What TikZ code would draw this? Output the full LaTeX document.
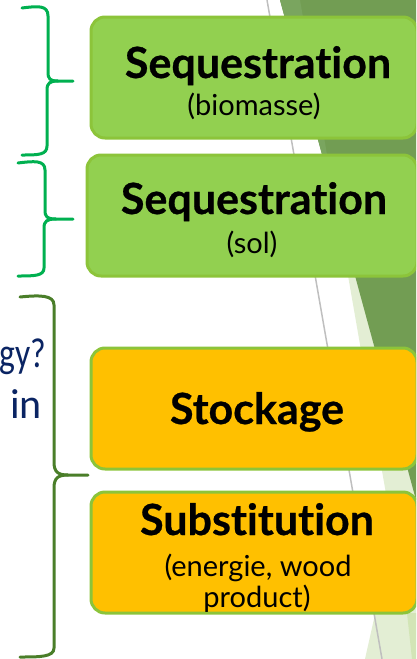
\documentclass[tikz,border=0pt]{standalone}
\usepackage{fontspec}
\newfontfamily\bigfont[Ligatures={NoCommon}, BoldFeatures={FakeBold=0.6}]{Lato}
\newfontfamily\smallfont[Ligatures={NoCommon}]{Lato}
\newfontfamily\navyfont{Carlito}
\newfontfamily\navyfontc[FakeStretch=0.8]{Carlito}
\definecolor{gfill}{HTML}{92D050}
\definecolor{oboxfill}{HTML}{FFC000}
\definecolor{bborder}{HTML}{8CC43A}
\definecolor{brgreen}{HTML}{00B050}
\definecolor{brdark}{HTML}{4A7E29}
\definecolor{navy}{HTML}{0A2463}
\definecolor{darkbg}{HTML}{729D53}
\definecolor{darkbgw}{HTML}{7AA55F}
\definecolor{lightbg}{HTML}{E3EED4}
\definecolor{lightbg2}{HTML}{D2E5B6}
\definecolor{grayln}{HTML}{BFBFBF}
\tikzset{
  gbox/.style={draw=bborder, fill=gfill, line width=3pt, rounded corners=14pt, minimum width=326pt, inner sep=0pt},
  obox/.style={draw=bborder, fill=oboxfill, line width=3pt, rounded corners=14pt, minimum width=326pt, inner sep=0pt},
  bigtxt/.style={font={\bigfont\bfseries\fontsize{43pt}{50pt}\selectfont}, text=black, inner sep=0pt, anchor=base},
  smalltxt/.style={font={\smallfont\fontsize{29pt}{34pt}\selectfont}, text=black, inner sep=0pt, anchor=base},
  navytxt/.style={font={\navyfont\fontsize{42pt}{48pt}\selectfont}, text=navy, inner sep=0pt, anchor=base east},
  brace1/.style={draw=brgreen, line width=3pt, line cap=round},
  brace2/.style={draw=brdark, line width=3pt, line cap=round}
}
\begin{document}
\begin{tikzpicture}[x=1pt, y=-1pt]
\useasboundingbox (0,0) rectangle (416,659);
\clip (0,0) rectangle (416,659);
% background
\fill[lightbg] (300,0) -- (393,534) -- (365,659) -- (416,659) -- (416,0) -- cycle;
\fill[lightbg2] (407,613) -- (416,613) -- (416,659) -- (412,659) -- cycle;
\fill[darkbg] (280,0) -- (416,500) -- (416,0) -- cycle;
\fill[darkbgw] (280,0) -- (300,0) -- (336,206) -- cycle;
\draw[grayln, line width=1.5pt] (267,0) -- (382,659);
% boxes
\node[gbox, minimum height=121pt] (b1) at (254,77.5) {};
\node[gbox, minimum height=121pt, minimum width=330pt] (b2) at (252,215.5) {};
\node[obox, minimum height=121pt] (b3) at (254,408.5) {};
\node[obox, minimum height=121pt] (b4) at (254,552.5) {};
% texts
\node[bigtxt] (t1) at (258,78) {Sequestration};
\node[smalltxt] (t1b) at (254,115) {(biomasse)};
\node[bigtxt] (t2) at (254,214) {Sequestration};
\node[smalltxt] (t2b) at (252,253) {(sol)};
\node[bigtxt] (t3) at (257,424) {Stockage};
\node[bigtxt] (t4) at (257,535) {Substitution};
\node[smalltxt] (t4b) at (258,576) {(energie, wood};
\node[smalltxt] (t4c) at (257,607) {product)};
% left text
\node[navytxt, font={\navyfontc\fontsize{42pt}{48pt}\selectfont}] (l1) at (46,367) {gy?};
\node[navytxt] (l2) at (42,418) {in};
% braces
\draw[brace1] (22,8) .. controls (38,6) and (48,5) .. (48,16) -- (48,72) .. controls (48,79) and (50,81) .. (58,81) -- (73,81);
\draw[brace1] (58,81) .. controls (50,81) and (47,83) .. (47,90) -- (47,146) .. controls (47,155) and (38,155) .. (22,155);
\draw[brace1] (18,163) .. controls (34,161) and (45,160) .. (45,170) -- (45,210) .. controls (45,217) and (47,219) .. (56,219) -- (73,219);
\draw[brace1] (56,219) .. controls (47,219) and (44,221) .. (44,228) -- (44,268) .. controls (44,276) and (34,276) .. (18,276);
\draw[brace2] (20,297) .. controls (40,295) and (54,295) .. (54,305) -- (54,462) .. controls (54,472) and (58,475) .. (68,475) -- (88,475);
\draw[brace2] (68,475) .. controls (58,475) and (54,478) .. (54,488) -- (54,648) .. controls (54,657) and (40,657) .. (20,657);
\end{tikzpicture}
\end{document}
